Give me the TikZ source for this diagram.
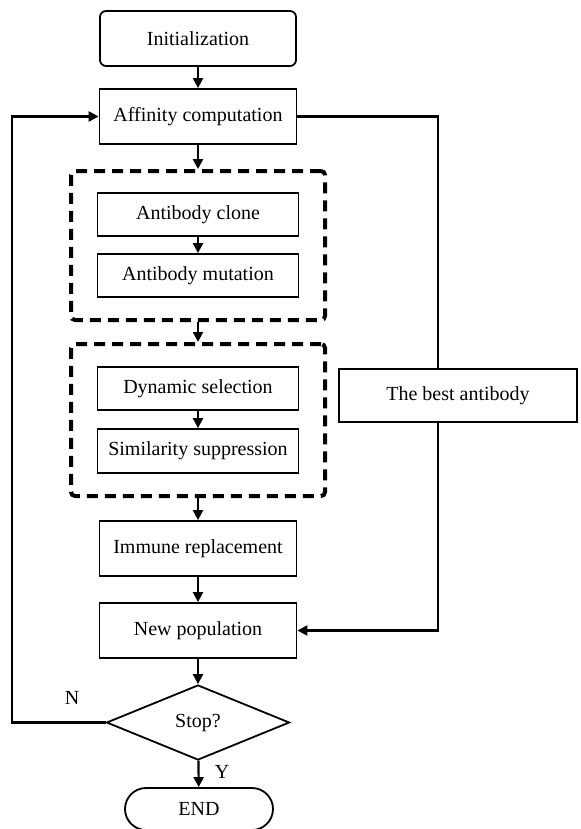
\documentclass[tikz,border=0pt]{standalone}
\usepackage{fontspec}
\setmainfont{Liberation Serif}
\usetikzlibrary{arrows.meta,shapes.geometric,shapes.misc}
\begin{document}
\begin{tikzpicture}[x=0.5pt,y=-0.5pt,
  font=\fontsize{10}{12}\selectfont,
  box/.style={draw,line width=0.9pt,inner sep=0pt,minimum width=#1,minimum height=27.5pt},
  inbox/.style={draw,line width=0.9pt,inner sep=0pt,minimum width=100.5pt,minimum height=21.5pt},
  dashbox/.style={draw,line width=2pt,dash pattern=on 5.5pt off 3.5pt,rounded corners=2pt,inner sep=0pt,minimum width=127pt,minimum height=#1},
  arr/.style={line width=1.1pt,-{Triangle[length=5pt,width=5pt]}},
  conn/.style={line width=1.1pt}]
\useasboundingbox (0,0) rectangle (580,829);
\node[box=98pt,rounded corners=3pt] (init) at (198,38.5) {Initialization};
\node[box=98.5pt] (aff) at (198,116.5) {Affinity computation};
\node[dashbox=74.5pt] (dash1) at (198,245.5) {};
\node[inbox] (clone) at (198,214.5) {Antibody clone};
\node[inbox] (mut) at (198,275.5) {Antibody mutation};
\node[dashbox=76pt] (dash2) at (198,420) {};
\node[inbox] (dyn) at (198,388.5) {Dynamic selection};
\node[inbox,minimum height=22pt] (sim) at (198,451) {Similarity suppression};
\node[box=119pt,minimum height=26.5pt] (best) at (458,395.5) {The best antibody};
\node[box=98.5pt] (imm) at (198,548.5) {Immune replacement};
\node[box=98.5pt] (newp) at (198,630.5) {New population};
\node[draw,line width=0.9pt,diamond,inner sep=0pt,minimum width=91.5pt,minimum height=37.5pt] (stop) at (198,722.5) {Stop?};
\node[draw,line width=0.9pt,rounded rectangle,inner sep=0pt,minimum width=74pt,minimum height=21pt] (end) at (199,809) {END};
\node (nlab) at (72,698) {N};
\node (ylab) at (222,772) {Y};
\coordinate (tr) at (438,116.5);
\coordinate (lx) at (12,116.5);
\draw[arr] (init) -- (aff);
\draw[arr] (aff) -- (dash1.north);
\draw[arr] (clone) -- (mut);
\draw[arr] (dash1.south) -- (dash2.north);
\draw[arr] (dyn) -- (sim);
\draw[arr] (dash2.south) -- (imm);
\draw[arr] (imm) -- (newp);
\draw[arr] (newp) -- (stop);
\draw[arr] (stop) -- (end);
\draw[conn] (aff.east) -- (tr) -- (tr |- best.north);
\draw[arr] (tr |- best.south) |- (newp.east);
\draw[arr] (stop.west) -| (lx) -- (aff.west);
\end{tikzpicture}
\end{document}
